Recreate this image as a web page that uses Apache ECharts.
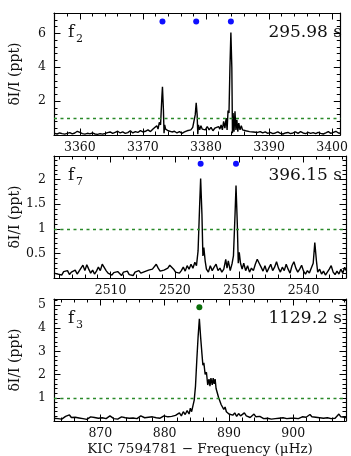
<!DOCTYPE html>
<html>
<head>
<meta charset="utf-8">
<script src="https://cdn.jsdelivr.net/npm/echarts@6/dist/echarts.min.js"></script>
<style>
  html, body { margin: 0; padding: 0; background: #fff; }
  #chart { width: 351px; height: 456px; }
</style>
</head>
<body>
<div id="chart"></div>
<script>
// f2 spectrum, [frequency (uHz), amplitude (ppt)]
var f2Spectrum = [
  [3356.0,0.10],[3356.4,0.06],[3356.8,0.12],[3357.2,0.08],[3357.6,0.05],[3358.0,0.10],[3358.4,0.14],[3358.8,0.07],
  [3359.2,0.12],[3359.6,0.22],[3360.0,0.15],[3360.4,0.08],[3360.8,0.05],[3361.2,0.10],[3361.6,0.07],[3362.0,0.12],
  [3362.4,0.06],[3362.8,0.04],[3363.2,0.08],[3363.6,0.05],[3364.0,0.09],[3364.4,0.14],[3364.8,0.18],[3365.2,0.10],
  [3365.6,0.16],[3366.0,0.22],[3366.4,0.12],[3366.8,0.18],[3367.2,0.10],[3367.6,0.14],[3368.0,0.25],[3368.4,0.12],
  [3368.8,0.20],[3369.2,0.15],[3369.6,0.26],[3370.0,0.18],[3370.4,0.22],[3370.8,0.30],[3371.2,0.20],[3371.6,0.35],
  [3371.9,0.25],[3372.2,0.55],[3372.4,0.35],[3372.6,0.75],[3372.8,0.60],[3373.0,2.20],[3373.1,2.85],[3373.25,1.50],
  [3373.35,0.10],[3373.45,0.60],[3373.6,0.35],[3373.8,0.45],[3374.0,0.25],[3374.3,0.30],[3374.6,0.18],[3375.0,0.22],
  [3375.4,0.12],[3375.8,0.20],[3376.2,0.10],[3376.6,0.18],[3377.0,0.25],[3377.3,0.15],[3377.6,0.30],[3377.9,0.45],
  [3378.1,0.35],[3378.3,1.20],[3378.45,1.90],[3378.6,1.20],[3378.7,0.05],[3378.8,0.60],[3379.0,0.30],[3379.2,0.55],
  [3379.4,0.35],[3379.6,0.45],[3379.9,0.30],[3380.2,0.50],[3380.5,0.30],[3380.8,0.45],[3381.1,0.25],[3381.4,0.40],
  [3381.7,0.30],[3382.0,0.50],[3382.2,0.35],[3382.4,0.60],[3382.6,0.30],[3382.8,0.80],[3383.0,0.40],[3383.2,1.00],
  [3383.35,0.30],[3383.5,1.45],[3383.65,1.30],[3383.8,4.00],[3383.95,6.05],[3384.1,4.00],[3384.2,0.10],[3384.3,1.30],
  [3384.45,0.20],[3384.6,1.40],[3384.75,0.30],[3384.9,0.90],[3385.05,0.20],[3385.2,0.70],[3385.4,0.30],[3385.6,0.55],
  [3385.8,0.30],[3386.0,0.40],[3386.3,0.25],[3386.6,0.35],[3386.9,0.20],[3387.2,0.30],[3387.5,0.18],[3387.8,0.25],
  [3388.2,0.15],[3388.6,0.20],[3389.0,0.12],[3389.4,0.18],[3389.8,0.10],[3390.2,0.15],[3390.6,0.08],[3391.0,0.12],
  [3391.4,0.18],[3391.8,0.10],[3392.2,0.06],[3392.6,0.12],[3393.0,0.15],[3393.4,0.08],[3393.8,0.12],[3394.2,0.18],
  [3394.6,0.10],[3395.0,0.20],[3395.4,0.12],[3395.8,0.08],[3396.2,0.15],[3396.6,0.10],[3397.0,0.14],[3397.4,0.08],
  [3397.8,0.16],[3398.2,0.10],[3398.6,0.06],[3399.0,0.12],[3399.4,0.20],[3399.8,0.10],[3400.2,0.15],[3400.6,0.22],
  [3401.0,0.12],[3401.3,0.10]
];
var f7Spectrum = [
  [2501.2,0.10],[2501.5,0.14],[2501.8,0.08],[2502.1,0.12],[2502.4,0.06],[2502.7,0.13],[2503.0,0.09],[2503.3,0.15],
  [2503.6,0.07],[2503.9,0.12],[2504.2,0.10],[2504.5,0.16],[2504.8,0.08],[2505.1,0.12],[2505.4,0.20],[2505.7,0.26],
  [2506.0,0.15],[2506.3,0.27],[2506.6,0.18],[2506.9,0.10],[2507.2,0.16],[2507.5,0.08],[2507.8,0.14],[2508.1,0.22],
  [2508.4,0.15],[2508.7,0.28],[2509.0,0.24],[2509.3,0.15],[2509.6,0.10],[2509.9,0.14],[2510.2,0.06],[2510.5,0.11],
  [2510.8,0.07],[2511.1,0.13],[2511.4,0.09],[2511.7,0.05],[2512.0,0.12],[2512.3,0.08],[2512.6,0.14],[2512.9,0.07],
  [2513.2,0.10],[2513.5,0.05],[2513.8,0.12],[2514.1,0.08],[2514.4,0.15],[2514.7,0.10],[2515.0,0.06],[2515.3,0.13],
  [2515.6,0.09],[2515.9,0.16],[2516.2,0.12],[2516.5,0.18],[2516.8,0.22],[2517.1,0.28],[2517.4,0.20],[2517.7,0.14],
  [2518.0,0.10],[2518.3,0.16],[2518.6,0.12],[2518.9,0.20],[2519.2,0.26],[2519.5,0.30],[2519.8,0.18],[2520.1,0.12],
  [2520.4,0.16],[2520.7,0.10],[2521.0,0.15],[2521.3,0.22],[2521.6,0.14],[2521.9,0.25],[2522.2,0.18],[2522.5,0.28],
  [2522.8,0.20],[2523.1,0.32],[2523.35,0.25],[2523.6,0.55],[2523.85,1.50],[2524.0,2.02],[2524.2,1.30],[2524.35,0.45],
  [2524.5,0.62],[2524.7,0.35],[2524.9,0.18],[2525.2,0.12],[2525.5,0.25],[2525.8,0.15],[2526.1,0.22],[2526.4,0.28],
  [2526.7,0.15],[2527.0,0.20],[2527.3,0.12],[2527.6,0.18],[2527.9,0.38],[2528.1,0.20],[2528.3,0.35],[2528.6,0.15],
  [2528.9,0.30],[2529.1,0.45],[2529.35,1.30],[2529.5,1.88],[2529.7,1.10],[2529.85,0.30],[2530.0,0.52],[2530.2,0.30],
  [2530.45,0.18],[2530.7,0.30],[2531.0,0.15],[2531.3,0.25],[2531.6,0.12],[2531.9,0.20],[2532.2,0.15],[2532.5,0.28],
  [2532.8,0.38],[2533.1,0.30],[2533.4,0.22],[2533.7,0.14],[2534.0,0.25],[2534.3,0.12],[2534.6,0.20],[2534.9,0.28],
  [2535.2,0.15],[2535.5,0.22],[2535.8,0.33],[2536.1,0.20],[2536.4,0.12],[2536.7,0.22],[2537.0,0.15],[2537.3,0.28],
  [2537.6,0.18],[2537.9,0.10],[2538.2,0.25],[2538.5,0.33],[2538.8,0.20],[2539.1,0.12],[2539.4,0.18],[2539.7,0.26],
  [2540.0,0.14],[2540.3,0.08],[2540.6,0.15],[2540.9,0.10],[2541.2,0.14],[2541.5,0.30],[2541.75,0.72],[2542.0,0.35],
  [2542.2,0.12],[2542.5,0.18],[2542.8,0.08],[2543.1,0.14],[2543.4,0.06],[2543.7,0.12],[2544.0,0.18],[2544.3,0.25],
  [2544.6,0.12],[2544.9,0.07],[2545.2,0.14],[2545.5,0.08],[2545.8,0.18],[2546.1,0.10],[2546.4,0.22],[2546.6,0.15]
];
var f3Spectrum = [
  [862.8,0.12],[863.1,0.18],[863.4,0.10],[863.7,0.15],[864.0,0.08],[864.3,0.14],[864.6,0.20],[864.9,0.12],
  [865.2,0.26],[865.5,0.15],[865.8,0.10],[866.1,0.16],[866.4,0.08],[866.7,0.13],[867.0,0.18],[867.3,0.10],
  [867.6,0.14],[867.9,0.07],[868.2,0.12],[868.5,0.18],[868.8,0.10],[869.1,0.15],[869.4,0.20],[869.7,0.12],
  [870.0,0.08],[870.3,0.14],[870.6,0.18],[870.9,0.10],[871.2,0.16],[871.5,0.22],[871.8,0.14],[872.1,0.10],
  [872.4,0.15],[872.7,0.08],[873.0,0.12],[873.3,0.18],[873.6,0.10],[873.9,0.14],[874.2,0.20],[874.5,0.12],
  [874.8,0.07],[875.1,0.13],[875.4,0.18],[875.7,0.10],[876.0,0.15],[876.3,0.22],[876.6,0.26],[876.9,0.14],
  [877.2,0.10],[877.5,0.16],[877.8,0.12],[878.1,0.18],[878.4,0.10],[878.7,0.14],[879.0,0.20],[879.3,0.12],
  [879.6,0.16],[879.9,0.22],[880.2,0.14],[880.5,0.18],[880.8,0.12],[881.1,0.20],[881.4,0.15],[881.7,0.24],
  [882.0,0.18],[882.3,0.35],[882.6,0.22],[882.9,0.40],[883.2,0.28],[883.5,0.45],[883.8,0.30],[884.0,0.55],
  [884.2,0.40],[884.4,0.65],[884.6,0.90],[884.8,1.50],[885.0,2.60],[885.2,3.60],[885.4,4.40],[885.6,3.60],
  [885.8,2.90],[885.95,2.40],[886.1,2.50],[886.3,2.00],[886.5,2.10],[886.7,1.55],[886.9,1.80],[887.05,1.50],
  [887.2,1.85],[887.4,1.55],[887.55,1.85],[887.7,1.60],[887.85,1.80],[888.0,1.40],[888.2,1.35],[888.4,1.00],
  [888.6,0.95],[888.8,0.70],[889.0,0.75],[889.2,0.50],[889.4,0.60],[889.6,0.40],[889.8,0.48],[890.0,0.30],
  [890.3,0.38],[890.6,0.25],[890.9,0.35],[891.2,0.20],[891.5,0.32],[891.8,0.22],[892.1,0.30],[892.4,0.35],
  [892.7,0.22],[893.0,0.28],[893.3,0.15],[893.6,0.22],[893.9,0.30],[894.2,0.18],[894.5,0.12],[894.8,0.20],
  [895.1,0.14],[895.4,0.10],[895.7,0.16],[896.0,0.12],[896.3,0.18],[896.6,0.08],[896.9,0.14],[897.2,0.10],
  [897.5,0.16],[897.8,0.12],[898.1,0.08],[898.4,0.14],[898.7,0.18],[899.0,0.10],[899.3,0.15],[899.6,0.12],
  [899.9,0.20],[900.2,0.12],[900.5,0.16],[900.8,0.10],[901.1,0.14],[901.4,0.18],[901.7,0.12],[902.0,0.16],
  [902.3,0.22],[902.6,0.28],[902.9,0.18],[903.2,0.12],[903.5,0.16],[903.8,0.10],[904.1,0.14],[904.4,0.20],
  [904.7,0.12],[905.0,0.08],[905.3,0.14],[905.6,0.18],[905.9,0.10],[906.2,0.15],[906.5,0.12],[906.8,0.20],
  [907.1,0.30],[907.4,0.18],[907.7,0.12],[908.0,0.16],[908.2,0.14]
];

// identified modes (dots above the peaks)
var f2Modes = [[3373.1, 6.7], [3378.45, 6.7], [3383.95, 6.7]];
var f7Modes = [[2524.0, 2.32], [2529.5, 2.32]];
var f3Modes = [[885.4, 4.9]];

// tick labels
var f2XTicks = [3360, 3370, 3380, 3390, 3400];
var f7XTicks = [2510, 2520, 2530, 2540];
var f3XTicks = [870, 880, 890, 900];
var f2YTicks = [2, 4, 6];
var f7YTicks = [0.5, 1, 1.5, 2];
var f3YTicks = [1, 2, 3, 4, 5];

var threshold = 1;

var panels = [
  { spec: f2Spectrum, modes: f2Modes, dot: '#0f0fff', xr: [3355.9, 3401.3], yr: [0, 7.2],
    xt: f2XTicks, yt: f2YTicks, xm: 2, ym: 0.4, sub: '2', period: '295.98 s' },
  { spec: f7Spectrum, modes: f7Modes, dot: '#0f0fff', xr: [2501.2, 2546.6], yr: [0, 2.48],
    xt: f7XTicks, yt: f7YTicks, xm: 2, ym: 0.1, sub: '7', period: '396.15 s' },
  { spec: f3Spectrum, modes: f3Modes, dot: '#0a6e0a', xr: [862.8, 908.2], yr: [0, 5.25],
    xt: f3XTicks, yt: f3YTicks, xm: 2, ym: 0.2, sub: '3', period: '1129.2 s' }
];

var LEFT = 54, WIDTH = 292, HEIGHT = 122;
var TOPS = [13, 156, 299];
var FONT = '"DejaVu Serif", serif';

function minorValues(range, step, majors) {
  var out = [];
  var n0 = Math.ceil(range[0] / step - 1e-9);
  var n1 = Math.floor(range[1] / step + 1e-9);
  for (var n = n0; n <= n1; n++) {
    var v = +(n * step).toFixed(4);
    var isMajor = majors.some(function (m) { return Math.abs(m - v) < 1e-6; });
    if (!isMajor && v > range[0] && v < range[1]) out.push(v);
  }
  return out;
}

function makeAxis(g, pos, range, values, len, showLine, showLabel) {
  var isX = (pos === 'top' || pos === 'bottom');
  return {
    type: 'value',
    gridIndex: g,
    position: pos,
    min: range[0],
    max: range[1],
    axisLine: { show: showLine, onZero: false, lineStyle: { color: '#000', width: 1.2 } },
    axisTick: { show: true, inside: true, length: len, customValues: values,
                lineStyle: { color: '#000', width: 1 } },
    axisLabel: { show: showLabel, customValues: values, margin: isX ? 6 : 8,
                 color: '#111', fontFamily: FONT, fontSize: 12.5,
                 formatter: function (v) { return String(v); } },
    splitLine: { show: false }
  };
}

var grids = [], xAxes = [], yAxes = [], series = [], graphics = [];

panels.forEach(function (p, g) {
  var top = TOPS[g];
  grids.push({ left: LEFT, top: top, width: WIDTH, height: HEIGHT });

  var xMinor = minorValues(p.xr, p.xm, p.xt);
  var yMinor = minorValues(p.yr, p.ym, p.yt);

  xAxes.push(makeAxis(g, 'bottom', p.xr, p.xt, 6.5, true, true));
  xAxes.push(makeAxis(g, 'bottom', p.xr, xMinor, 3.5, false, false));
  xAxes.push(makeAxis(g, 'top', p.xr, p.xt, 6.5, true, false));
  xAxes.push(makeAxis(g, 'top', p.xr, xMinor, 3.5, false, false));

  yAxes.push(makeAxis(g, 'left', p.yr, p.yt, 6.5, true, true));
  yAxes.push(makeAxis(g, 'left', p.yr, yMinor, 3.5, false, false));
  yAxes.push(makeAxis(g, 'right', p.yr, p.yt, 6.5, true, false));
  yAxes.push(makeAxis(g, 'right', p.yr, yMinor, 3.5, false, false));

  series.push({
    type: 'line',
    xAxisIndex: g * 4,
    yAxisIndex: g * 4,
    data: p.spec,
    showSymbol: false,
    lineStyle: { color: '#000', width: 1.4 },
    z: 3,
    markLine: {
      silent: true,
      symbol: ['none', 'none'],
      label: { show: false },
      lineStyle: { color: '#2a8a2a', type: [3, 3.5], width: 1.4, opacity: 1 },
      data: [{ yAxis: threshold }]
    }
  });
  series.push({
    type: 'scatter',
    xAxisIndex: g * 4,
    yAxisIndex: g * 4,
    data: p.modes,
    symbolSize: 6,
    itemStyle: { color: p.dot, opacity: 1 },
    z: 4
  });

  // panel labels
  graphics.push({ type: 'text', left: 68, top: top + 11,
    style: { text: 'f', font: '17px ' + FONT, fill: '#111' } });
  graphics.push({ type: 'text', left: 76, top: top + 21,
    style: { text: p.sub, font: '11px ' + FONT, fill: '#111' } });
  graphics.push({ type: 'text', right: 351 - 342, top: top + 11,
    style: { text: p.period, font: '17px ' + FONT, fill: '#111' } });

  // y title
  graphics.push({ type: 'text', x: 15, y: top + HEIGHT / 2, rotation: Math.PI / 2,
    style: { text: '\u03B4I/I (ppt)', font: '14px ' + FONT, fill: '#111',
             align: 'center', verticalAlign: 'middle' } });
});

graphics.push({ type: 'text', x: LEFT + WIDTH / 2, y: 449,
  style: { text: 'KIC 7594781 \u2212 Frequency (\u03BCHz)', font: '13.5px ' + FONT, fill: '#111',
           align: 'center', verticalAlign: 'middle' } });

var chart = echarts.init(document.getElementById('chart'));
chart.setOption({
  animation: false,
  backgroundColor: '#fff',
  grid: grids,
  xAxis: xAxes,
  yAxis: yAxes,
  series: series,
  graphic: graphics
});
</script>
</body>
</html>
